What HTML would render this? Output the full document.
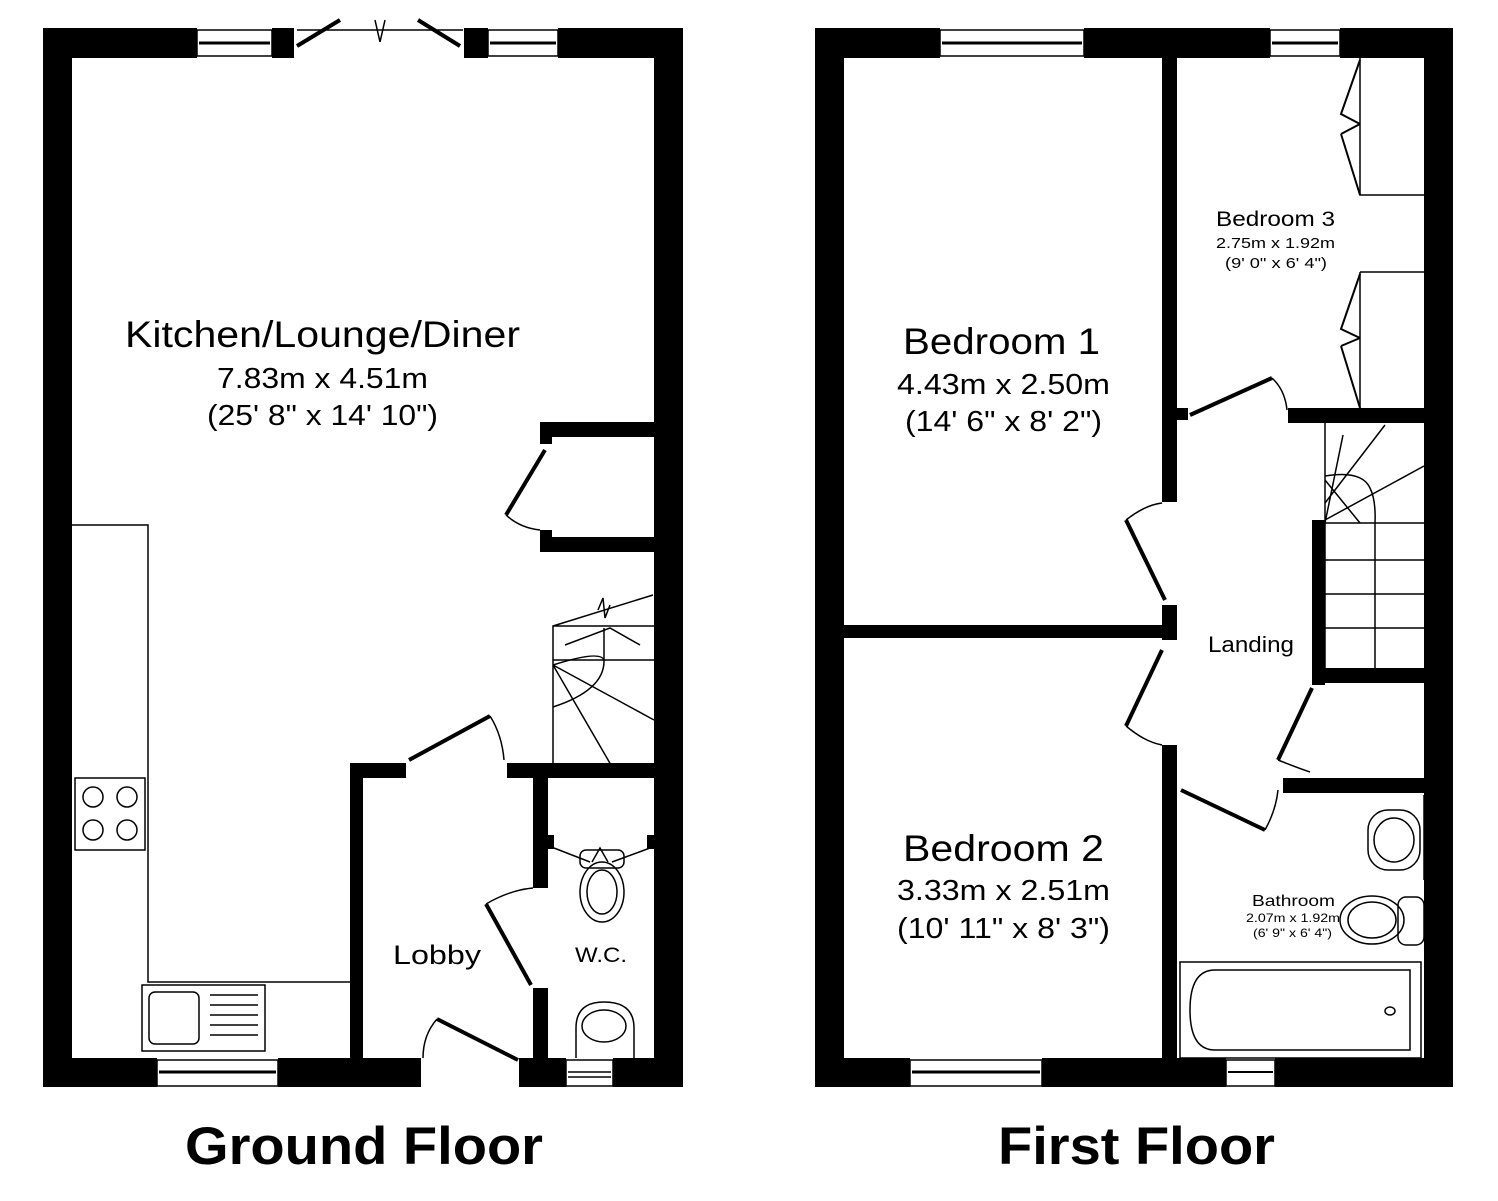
<!DOCTYPE html>
<html><head><style>body{margin:0;background:#fff}svg{display:block}text{font-family:"Liberation Sans",Arial,sans-serif;fill:#000}</style></head>
<body>
<svg width="1498" height="1201" viewBox="0 0 1498 1201" xmlns="http://www.w3.org/2000/svg">
<g fill="#000" stroke="none">
<rect x="43" y="28" width="154" height="30"/>
<rect x="272" y="28" width="22" height="30"/>
<rect x="464" y="28" width="24" height="30"/>
<rect x="558" y="28" width="125" height="30"/>
<rect x="43" y="28" width="29" height="1059"/>
<rect x="654" y="28" width="29" height="1059"/>
<rect x="43" y="1058" width="114" height="29"/>
<rect x="278" y="1058" width="143" height="29"/>
<rect x="519" y="1058" width="47" height="29"/>
<rect x="613" y="1058" width="70" height="29"/>
<rect x="540" y="422" width="114" height="15"/>
<rect x="540" y="422" width="12" height="22"/>
<rect x="540" y="537" width="114" height="15"/>
<rect x="540" y="530" width="12" height="22"/>
<rect x="350" y="763" width="13" height="295"/>
<rect x="350" y="763" width="56" height="15"/>
<rect x="507" y="763" width="147" height="15"/>
<rect x="533" y="778" width="15" height="110"/>
<rect x="533" y="988" width="15" height="70"/>
<rect x="548" y="835" width="6" height="14"/>
<rect x="647" y="835" width="7" height="14"/>

<rect x="815" y="28" width="125" height="30"/>
<rect x="1084" y="28" width="186" height="30"/>
<rect x="1340" y="28" width="113" height="30"/>
<rect x="815" y="28" width="29" height="1059"/>
<rect x="1424" y="28" width="29" height="1059"/>
<rect x="815" y="1058" width="95" height="29"/>
<rect x="1042" y="1058" width="184" height="29"/>
<rect x="1275" y="1058" width="178" height="29"/>
<rect x="1162" y="57" width="15" height="445"/>
<rect x="1162" y="605" width="15" height="35"/>
<rect x="1162" y="745" width="15" height="313"/>
<rect x="844" y="625" width="318" height="13"/>
<rect x="1177" y="408" width="11" height="12"/>
<rect x="1288" y="408" width="136" height="15"/>
<rect x="1312" y="520" width="13" height="165"/>
<rect x="1312" y="668" width="112" height="15"/>
<rect x="1283" y="778" width="141" height="15"/>
</g>
<g fill="none" stroke="#000" stroke-width="1.5">
<rect x="197" y="30" width="75" height="26"/><line x1="199" y1="43" x2="270" y2="43" stroke-width="3"/>
<rect x="488" y="30" width="70" height="26"/><line x1="490" y1="43" x2="556" y2="43" stroke-width="3"/>
<rect x="157" y="1060" width="121" height="26"/><line x1="159" y1="1072" x2="276" y2="1072" stroke-width="3"/>
<rect x="566" y="1060" width="47" height="26"/><line x1="568" y1="1072" x2="611" y2="1072"/><line x1="568" y1="1077" x2="611" y2="1077"/>
<line x1="297" y1="46" x2="340" y2="20" stroke-width="4"/>
<line x1="460" y1="46" x2="418" y2="20" stroke-width="4"/>
<path d="M297 30 L463 30"/>
<path d="M375 20 L380 42 L385 20"/>
<path d="M72 525 H148 V982 H350"/>
<rect x="75" y="778" width="70" height="72"/>
<circle cx="93" cy="797" r="10"/><circle cx="127" cy="797" r="10"/><circle cx="93" cy="830" r="10"/><circle cx="127" cy="830" r="10"/>
<rect x="142" y="985" width="123" height="66"/><rect x="149" y="992" width="50" height="52" rx="6"/>
<line x1="210" y1="995" x2="258" y2="995"/><line x1="210" y1="1005" x2="258" y2="1005"/><line x1="210" y1="1015" x2="258" y2="1015"/><line x1="210" y1="1025" x2="258" y2="1025"/><line x1="210" y1="1035" x2="258" y2="1035"/>
<line x1="545" y1="450" x2="506" y2="515" stroke-width="4"/>
<path d="M506 515 Q520 528 540 530"/>
<path d="M553 765 V626 H654 M553 660 H654 M553 626 L653 595"/>
<path d="M565 645 L610 628 L640 645 M604 628 V660"/>
<path d="M553 665 L611 765 M553 665 L654 720 M553 665 Q600 650 604 660 Q605 690 553 707"/>
<path d="M598 610 L603 598 L605 618 L610 605"/>
<line x1="409" y1="760" x2="490" y2="716" stroke-width="4"/>
<path d="M490 716 Q502 735 504 760"/>
<line x1="486" y1="904" x2="531" y2="985" stroke-width="4"/>
<path d="M486 904 Q510 890 533 888"/>
<line x1="437" y1="1019" x2="518" y2="1060" stroke-width="4"/>
<path d="M437 1019 Q423 1035 423 1058"/>
<path d="M554 848 L590 862 M650 848 L612 862"/>
<rect x="580" y="850" width="44" height="18" rx="6"/>
<path d="M592 862 L600 848 L608 862"/>
<ellipse cx="602" cy="892" rx="22" ry="30"/><ellipse cx="602" cy="892" rx="15" ry="22"/>
<path d="M576 1058 V1028 Q576 1002 604 1002 Q634 1002 634 1028 V1058"/>
<ellipse cx="604" cy="1026" rx="22" ry="16"/>

<rect x="940" y="30" width="144" height="26"/><line x1="942" y1="43" x2="1082" y2="43" stroke-width="3"/>
<rect x="1270" y="30" width="70" height="26"/><line x1="1272" y1="43" x2="1338" y2="43" stroke-width="3"/>
<rect x="910" y="1060" width="132" height="26"/><line x1="912" y1="1072" x2="1040" y2="1072" stroke-width="3"/>
<rect x="1226" y="1060" width="49" height="26"/><line x1="1228" y1="1072" x2="1273" y2="1072" stroke-width="2"/>
<!-- wardrobes -->
<path d="M1360 57 V195 H1424"/>
<path d="M1360 60 L1341 114 L1360 124 M1341 134 L1360 124 M1341 134 L1360 195" stroke-width="2"/>
<path d="M1360 272 H1424 M1360 272 V408"/>
<path d="M1360 274 L1341 329 L1360 338 M1341 346 L1360 338 M1341 346 L1360 408" stroke-width="2"/>
<line x1="1190" y1="415" x2="1272" y2="378" stroke-width="4"/>
<path d="M1272 378 Q1285 390 1287 410"/>
<line x1="1126" y1="520" x2="1165" y2="600" stroke-width="4"/>
<path d="M1126 520 Q1145 505 1162 503"/>
<line x1="1162" y1="650" x2="1126" y2="726" stroke-width="4"/>
<path d="M1126 726 Q1145 742 1162 745"/>
<line x1="1181" y1="790" x2="1265" y2="830" stroke-width="4"/>
<path d="M1265 830 Q1276 810 1278 790"/>
<line x1="1312" y1="688" x2="1278" y2="760" stroke-width="4"/>
<path d="M1278 760 Q1298 768 1310 772"/>
<!-- stairs FF -->
<path d="M1325 423 V668 M1325 523 H1424 M1325 560 H1424 M1325 594 H1424 M1325 628 H1424"/>
<path d="M1375 523 V668"/>
<path d="M1325 476 Q1362 470 1370 488 Q1376 500 1375 523"/>
<path d="M1325 523 L1343 435 M1325 503 L1385 425 M1325 520 L1424 466 M1325 480 L1360 523"/>
<path d="M1424 795 V880"/>
<rect x="1368" y="810" width="52" height="60" rx="20"/>
<ellipse cx="1394" cy="840" rx="20" ry="22"/>
<ellipse cx="1372" cy="920" rx="32" ry="24"/><ellipse cx="1372" cy="920" rx="24" ry="18"/>
<rect x="1398" y="897" width="26" height="48" rx="8"/>
<rect x="1180" y="962" width="241" height="96"/>
<path d="M1215 970 H1410 V1050 H1215 Q1190 1050 1190 1010 Q1190 970 1215 970 Z"/>
<ellipse cx="1390" cy="1011" rx="5" ry="4"/>
</g>
<g lengthAdjust="spacingAndGlyphs">
<text x="125" y="347" font-size="37" textLength="395" lengthAdjust="spacingAndGlyphs">Kitchen/Lounge/Diner</text>
<text x="217" y="388" font-size="29" textLength="211" lengthAdjust="spacingAndGlyphs">7.83m x 4.51m</text>
<text x="207" y="425" font-size="29" textLength="231" lengthAdjust="spacingAndGlyphs">(25' 8" x 14' 10")</text>
<text x="393" y="964" font-size="27" textLength="88" lengthAdjust="spacingAndGlyphs">Lobby</text>
<text x="575" y="962" font-size="21" textLength="52" lengthAdjust="spacingAndGlyphs">W.C.</text>
<text x="903" y="354" font-size="37" textLength="197" lengthAdjust="spacingAndGlyphs">Bedroom 1</text>
<text x="897" y="394" font-size="29" textLength="213" lengthAdjust="spacingAndGlyphs">4.43m x 2.50m</text>
<text x="905" y="431" font-size="29" textLength="197" lengthAdjust="spacingAndGlyphs">(14' 6" x 8' 2")</text>
<text x="903" y="861" font-size="37" textLength="201" lengthAdjust="spacingAndGlyphs">Bedroom 2</text>
<text x="897" y="900" font-size="29" textLength="213" lengthAdjust="spacingAndGlyphs">3.33m x 2.51m</text>
<text x="897" y="938" font-size="29" textLength="213" lengthAdjust="spacingAndGlyphs">(10' 11" x 8' 3")</text>
<text x="1216" y="226" font-size="21" textLength="119" lengthAdjust="spacingAndGlyphs">Bedroom 3</text>
<text x="1216" y="248" font-size="15" textLength="119" lengthAdjust="spacingAndGlyphs">2.75m x 1.92m</text>
<text x="1225" y="268" font-size="15" textLength="102" lengthAdjust="spacingAndGlyphs">(9' 0" x 6' 4")</text>
<text x="1208" y="652" font-size="22" textLength="86" lengthAdjust="spacingAndGlyphs">Landing</text>
<text x="1252" y="906" font-size="16" textLength="83" lengthAdjust="spacingAndGlyphs">Bathroom</text>
<text x="1246" y="922" font-size="12" textLength="94" lengthAdjust="spacingAndGlyphs">2.07m x 1.92m</text>
<text x="1253" y="937" font-size="12" textLength="79" lengthAdjust="spacingAndGlyphs">(6' 9" x 6' 4")</text>
<text x="185" y="1164" font-size="53" font-weight="bold" textLength="358" lengthAdjust="spacingAndGlyphs">Ground Floor</text>
<text x="998" y="1164" font-size="53" font-weight="bold" textLength="277" lengthAdjust="spacingAndGlyphs">First Floor</text>
</g>
</svg>
</body></html>
